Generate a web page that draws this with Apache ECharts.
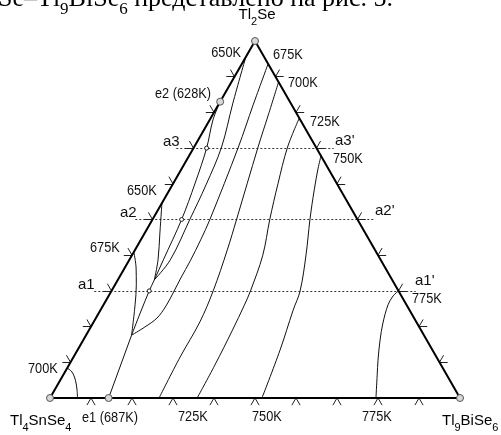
<!DOCTYPE html>
<html><head><meta charset="utf-8">
<script src="https://cdn.jsdelivr.net/npm/echarts@6/dist/echarts.min.js"></script>
<style>html,body{margin:0;padding:0;background:#fff;overflow:hidden}#c{width:501px;height:435px}</style>
</head><body><div id="c"></div>
<script>
// Compositions in mol %: [Tl9BiSe6, Tl2Se]; the remainder is Tl4SnSe4
const vertices = [[0,0],[100,0],[0,100],[0,0]];
const eutecticUpper = [[0,83],[0.8,77.9],[3.2,70],[5.3,60.2],[7.1,50],[8.3,38.7],[8.9,33.1],[9.2,30],[10.1,23.8],[11.1,17.6]];
const eutecticLower = [[11.1,17.6],[14.3,0]];
const iso650d = [[0,95.5],[3.3,82.6],[6.7,70.3],[8.2,59.7],[9.1,50],[10,38.7],[8.9,33.1]];
const iso650s = [[0,54.6],[3.7,46.2],[7.0,38.7],[8.9,33.1]];
const iso675s = [[0,40.9],[2.8,36.4],[5.2,31.7],[7.7,26.1],[11.1,17.6]];
const iso675d = [[11.1,17.6],[13.2,19.9],[14.9,22.4],[15.4,25.8],[15.3,29.7],[15.1,33.6],[15.0,38.4],[14.6,44.3],[14.0,50],[10.8,70.3],[8.5,82.1],[6.4,93.6]];
const iso700s = [[0,8.4],[1.7,7.3],[3.7,5.0],[5.5,2.2],[6.7,0]];
const iso700 = [[26.6,0],[26.0,11.5],[25.9,21.3],[24.8,30],[22.5,41.5],[20.5,50],[15.6,70.3],[13.6,79.3],[11.5,88.5]];
const iso725 = [[35.9,0],[35.6,9.2],[35.0,19],[34.4,26],[33.9,30],[31.9,40],[28.6,50],[25.6,60],[22.8,70.3],[21.6,78.4]];
const iso750 = [[51.7,0],[49.4,13.4],[47.0,24.6],[46.0,30],[42.4,40.1],[38.4,50],[35.3,58.3],[33.2,64.4],[32.2,67.8]];
const iso775 = [[79.5,0],[76.6,6.4],[74.7,10.6],[72.4,16.2],[70.7,21],[69.4,26.1],[69.4,28.6],[70,30]];
const tickValues = [10,20,30,40,50,60,70,80,90];
const sectionLevels = [30,50,70]; // a1-a1', a2-a2', a3-a3'
const sectionDots = [[9.2,30],[7.1,50],[3.2,70]];
const eutectics = [[14.3,0],[0,83]]; // e1, e2

const toXY = p => [p[0]/100 + p[1]/200, p[1]/100];
const chart = echarts.init(document.getElementById('c'), null, {renderer:'canvas'});

const L = 0.02, EXT = 0.042;
const tickSegs = [];
tickValues.forEach(v => {
  const t = v/100;
  tickSegs.push([[t,0],[t-L/2,-L]], [[t,0],[t+L/2,-L]]);
  tickSegs.push([[t/2,t],[t/2-L,t]], [[t/2,t],[t/2-L/2,t+L]]);
  tickSegs.push([[1-t/2,t],[1-t/2+L,t]], [[1-t/2,t],[1-t/2+L/2,t+L]]);
});
const sectionSegs = sectionLevels.map(v => { const a=v/100; return {coords:[[a/2-EXT,a],[1-a/2+EXT,a]]}; });

function curve(data, smooth){
  return {type:'line', data:data.map(toXY), smooth: smooth===undefined?0.35:smooth, symbol:'none', clip:false,
    lineStyle:{color:'#111', width:1}, silent:true, z:3};
}
const SANS = '"Liberation Sans", Arial, sans-serif';
function lab(text, x, y, align, size, sx){
  return {type:'text', x:x, y:y, scaleX: sx||0.85, silent:true, z:10,
    style:{text:text, fill:'#111', font: (size||15)+'px '+SANS, align: align||'left', verticalAlign:'middle',
      textAlign: align||'left', textVerticalAlign:'middle'}};
}
function richLab(parts, x, y, align, size, subSize, family, lh){
  const t = parts.map(p => (p[1]?'{s|':'{n|') + p[0] + '}').join('');
  return {type:'text', x:x, y:y, silent:true, z:10,
    style:{text:t, align: align||'left', verticalAlign:'top', textAlign: align||'left', textVerticalAlign:'top',
      rich:{ n:{fontSize:size, fontFamily:family, lineHeight:lh, verticalAlign:'top', color:'#111'},
             s:{fontSize:subSize, fontFamily:family, lineHeight:subSize, verticalAlign:'bottom', color:'#111'} }}};
}
const SERIF = '"Liberation Serif", "Times New Roman", serif';
const graphics = [
  richLab([['Se–Tl',0],['9',1],['BiSe',0],['6',1],[' представлено на рис. 5.',0]], -2, -13.5, 'left', 26, 17, SERIF, 32),
  richLab([['Tl',0],['2',1],['Se',0]], 257, 7, 'center', 15, 11, SANS, 20),
  richLab([['Tl',0],['4',1],['SnSe',0],['4',1]], 10, 413, 'left', 15, 11, SANS, 20),
  richLab([['Tl',0],['9',1],['BiSe',0],['6',1]], 442, 413, 'left', 15, 11, SANS, 20),
  lab('650K', 241, 52.5, 'right'),
  lab('675K', 273, 54.5),
  lab('e2 (628K)', 155, 93.5),
  lab('700K', 288, 82.5),
  lab('725K', 310, 121.5),
  lab('750K', 333, 159),
  lab('650K', 127, 191),
  lab('675K', 90, 248),
  lab('775K', 412, 299),
  lab('700K', 28, 368.5),
  lab('e1 (687K)', 82, 417.5),
  lab('725K', 178, 417),
  lab('750K', 252, 417),
  lab('775K', 362, 417),
  lab('a3', 163, 142, 'left', 15, 1),
  lab("a3'", 335, 141, 'left', 15, 1),
  lab('a2', 120, 212.5, 'left', 15, 1),
  lab("a2'", 375, 211, 'left', 15, 1),
  lab('a1', 78, 285, 'left', 15, 1),
  lab("a1'", 415, 281, 'left', 15, 1)
];

chart.setOption({
  animation:false,
  backgroundColor:'#fff',
  grid:{left:50, top:41, width:410, height:357},
  xAxis:{type:'value', min:0, max:1, show:false},
  yAxis:{type:'value', min:0, max:1, show:false},
  series:[
    {type:'lines', coordinateSystem:'cartesian2d', data:sectionSegs, clip:false, silent:true, z:2,
      lineStyle:{color:'#333', width:1, type:[2,2], opacity:1}},
    {type:'lines', coordinateSystem:'cartesian2d', data:tickSegs.map(c=>({coords:c})), clip:false, silent:true, z:2,
      lineStyle:{color:'#222', width:1, opacity:1}},
    curve(eutecticUpper), curve(eutecticLower, false),
    curve(iso650d), curve(iso650s), curve(iso675s), curve(iso675d), curve(iso700s),
    curve(iso700), curve(iso725), curve(iso750), curve(iso775),
    {type:'line', data:vertices.map(toXY), symbol:'none', clip:false, silent:true, z:4,
      lineStyle:{color:'#000', width:2}},
    {type:'scatter', data:sectionDots.map(toXY), symbol:'circle', symbolSize:4, clip:false, silent:true, z:6,
      itemStyle:{color:'#fff', borderColor:'#222', borderWidth:1, opacity:1}},
    {type:'scatter', data:vertices.slice(0,3).concat(eutectics).map(toXY), symbol:'circle', symbolSize:7, clip:false, silent:true, z:6,
      itemStyle:{color:'#d8d8d8', borderColor:'#555', borderWidth:1, opacity:1}}
  ],
  graphic: graphics
});
</script></body></html>
